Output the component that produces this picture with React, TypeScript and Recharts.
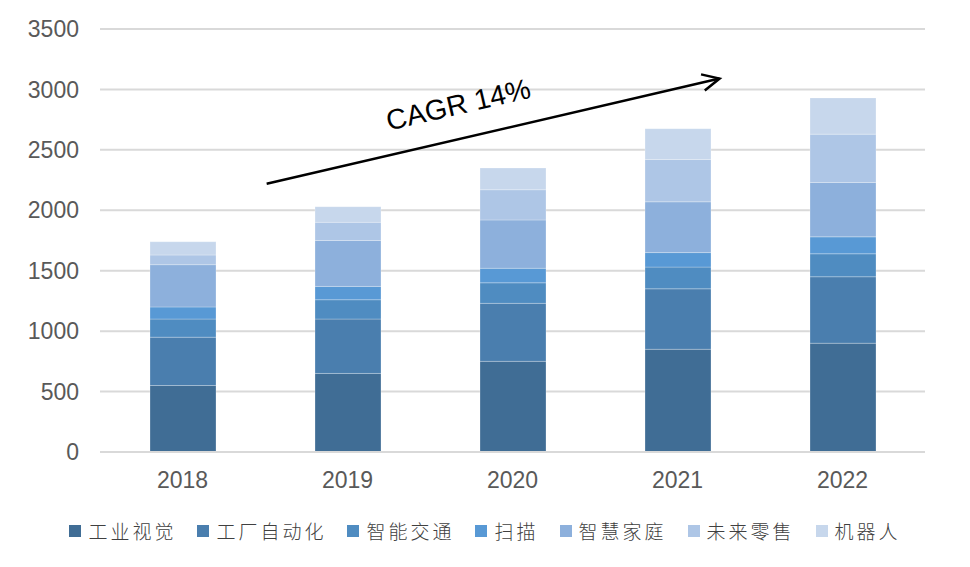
import React from 'react';
import { BarChart, Bar, XAxis, YAxis, CartesianGrid, Legend, ReferenceLine } from 'recharts';

const categories = ['2018', '2019', '2020', '2021', '2022'];
const seriesNames = ['工业视觉', '工厂自动化', '智能交通', '扫描', '智慧家庭', '未来零售', '机器人'];
const industrialVision = [550, 650, 750, 850, 900];
const factoryAutomation = [400, 450, 480, 500, 550];
const smartTraffic = [150, 160, 170, 180, 190];
const scanning = [100, 110, 120, 120, 140];
const smartHome = [350, 380, 400, 420, 450];
const futureRetail = [80, 150, 250, 350, 400];
const robots = [110, 130, 180, 255, 300];
const seriesValues = [industrialVision, factoryAutomation, smartTraffic, scanning, smartHome, futureRetail, robots];
const seriesColors = ['#406d95', '#4a7eae', '#4f8cc1', '#5899d5', '#8db0dc', '#aec6e6', '#c7d7ec'];
const yTicks = [0, 500, 1000, 1500, 2000, 2500, 3000, 3500];
const cagrLabel = 'CAGR 14%';
const arrowStart = { x: 0.51, y: 2220 };
const arrowEnd = { x: 3.255, y: 3090 };

const data = categories.map((c, i) => {
  const row: Record<string, string | number> = { year: c, idx: i };
  seriesNames.forEach((n, k) => {
    row[n] = seriesValues[k][i];
  });
  return row;
});

const LATIN = '"Liberation Sans", Arial, sans-serif';
const CJK = '"Noto Sans CJK SC", sans-serif';

const renderLegend = () => (
  <div
    style={{
      display: 'flex',
      justifyContent: 'center',
      alignItems: 'center',
      height: 30,
      fontFamily: CJK,
      fontSize: 19,
      fontWeight: 300,
      color: '#404040',
    }}
  >
    {seriesNames.map((n, i) => (
      <div key={n} style={{ display: 'flex', alignItems: 'center', marginRight: i < seriesNames.length - 1 ? 21 : 0 }}>
        <span style={{ display: 'inline-block', width: 12, height: 12, background: seriesColors[i], marginRight: 7 }} />
        <span style={{ letterSpacing: 3, lineHeight: '30px' }}>{n}</span>
      </div>
    ))}
  </div>
);

const ArrowShape = (props: any) => {
  const { x1, y1, x2, y2 } = props;
  if ([x1, y1, x2, y2].some((v) => typeof v !== 'number' || isNaN(v))) return null;
  const ang = Math.atan2(y2 - y1, x2 - x1);
  const head = 19;
  const spread = 0.45;
  const hx1 = x2 - head * Math.cos(ang - spread);
  const hy1 = y2 - head * Math.sin(ang - spread);
  const hx2 = x2 - head * Math.cos(ang + spread);
  const hy2 = y2 - head * Math.sin(ang + spread);
  const t = 0.44;
  const mx = x1 + (x2 - x1) * t;
  const my = y1 + (y2 - y1) * t;
  const off = 34;
  const tx = mx + off * Math.sin(ang);
  const ty = my - off * Math.cos(ang);
  const deg = (ang * 180) / Math.PI;
  return (
    <g>
      <line x1={x1} y1={y1} x2={x2} y2={y2} stroke="#000" strokeWidth={2.5} />
      <polyline points={`${hx1},${hy1} ${x2},${y2} ${hx2},${hy2}`} fill="none" stroke="#000" strokeWidth={2.5} />
      <text
        x={tx}
        y={ty}
        textAnchor="middle"
        dominantBaseline="central"
        fontFamily={LATIN}
        fontSize={28.5}
        fill="#000"
        transform={`rotate(${deg} ${tx} ${ty})`}
      >
        {cagrLabel}
      </text>
    </g>
  );
};

export default function App() {
  return (
    <div style={{ position: 'absolute', left: 0, top: 0, width: 970, height: 567, background: '#fff' }}>
      <BarChart
        width={970}
        height={567}
        data={data}
        margin={{ top: 29, right: 45, bottom: 55, left: 0 }}
        barSize={66}
      >
        <CartesianGrid vertical={false} stroke="#d9d9d9" strokeWidth={2} />
        <XAxis
          dataKey="year"
          axisLine={{ stroke: '#d9d9d9', strokeWidth: 2 }}
          tickLine={false}
          tickMargin={14}
          tick={{ fill: '#595959', fontSize: 23, fontFamily: LATIN }}
        />
        <XAxis xAxisId="n" dataKey="idx" type="number" domain={[-0.5, 4.5]} allowDataOverflow hide />
        <YAxis
          width={100}
          domain={[0, 3500]}
          ticks={yTicks}
          axisLine={false}
          tickLine={false}
          tickMargin={15}
          tick={{ fill: '#595959', fontSize: 23, fontFamily: LATIN }}
        />
        {seriesNames.map((n, i) => (
          <Bar
            key={n}
            dataKey={n}
            stackId="a"
            fill={seriesColors[i]}
            stroke="#ffffff"
            strokeOpacity={0.25}
            strokeWidth={1}
            isAnimationActive={false}
          />
        ))}
        <ReferenceLine
          xAxisId="n"
          segment={[arrowStart, arrowEnd]}
          ifOverflow="visible"
          shape={ArrowShape}
        />
        <Legend
          verticalAlign="bottom"
          content={renderLegend}
          wrapperStyle={{ top: 516, bottom: 'auto', left: 0, width: 970, height: 30 }}
        />
      </BarChart>
    </div>
  );
}
